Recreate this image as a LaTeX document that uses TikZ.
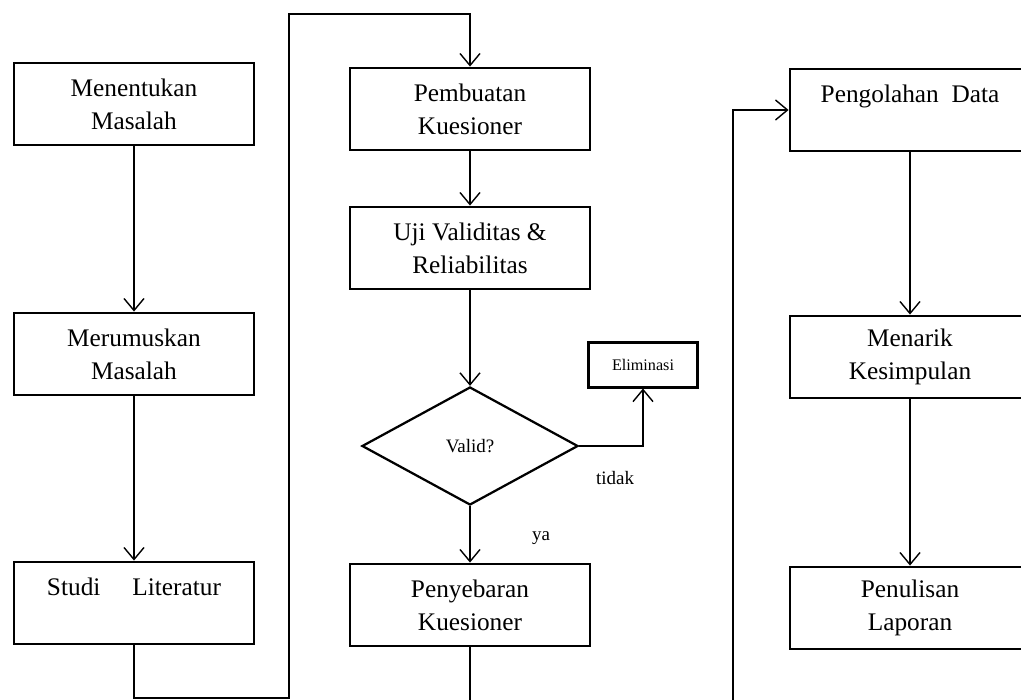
\documentclass[tikz,border=0pt]{standalone}
\usepackage{fontspec}
\setmainfont{Liberation Serif}
\usetikzlibrary{shapes.geometric,arrows.meta}

\begin{document}
\begin{tikzpicture}[x=0.025cm,y=-0.025cm,line width=1pt,>={Straight Barb[length=0.3cm,width=0.5cm]},
    box node/.style={draw,line width=2pt,minimum width=6cm,minimum height=2.05cm,inner sep=0pt,align=center,font=\fontsize{18}{23.5}\selectfont},
    small node/.style={draw,line width=1.6pt,minimum width=2.72cm,minimum height=1.12cm,inner sep=0pt,font=\fontsize{11.5}{14}\selectfont},
    test node/.style={diamond,draw,line width=1.6pt,minimum width=5.4cm,minimum height=2.95cm,inner sep=0pt,font=\fontsize{13.5}{16}\selectfont},
    label node/.style={font=\fontsize{13.5}{16}\selectfont}]
                \clip (0,0) rectangle (1021,699);
                \node[box node] at (134,104) (m1) {Menentukan\\Masalah};
                \node[box node] at (134,354) (m2) {Merumuskan\\Masalah};
                \node[box node] at (134,603) (m3) {Studi\hspace{0.8cm}Literatur\\\mbox{}};
                \node[box node] at (470,109) (p1) {Pembuatan\\Kuesioner};
                \node[box node] at (470,248) (p2) {Uji Validitas \&\\Reliabilitas};
                \node[test node] at (470,446) (v) {Valid?};
                \node[small node] at (643,365) (el) {Eliminasi};
                \node[box node] at (470,605) (p3) {Penyebaran\\Kuesioner};
                \node[box node] at (910,110) (r1) {Pengolahan\ \ Data\\\mbox{}};
                \node[box node] at (910,357) (r2) {Menarik\\Kesimpulan};
                \node[box node] at (910,608) (r3) {Penulisan\\Laporan};
                \node[label node] at (615,478) (tdk) {tidak};
                \node[label node] at (541,538) (ya) {ya};
                \coordinate (k1) at (289,698);
                \coordinate (k2) at (289,14);
                \coordinate (k3) at (733,712);

                \path[->] (m1) edge (m2)
                    (m2) edge (m3)
                    (p1) edge (p2)
                    (p2) edge (v)
                    (v) edge (p3)
                    (r1) edge (r2)
                    (r2) edge (r3);
                \draw[->] (m3) |- (k1) -- (k2) -| (p1);
                \draw[->] (v) -| (el);
                \draw[->] (p3) |- (k3) |- (r1);
            \end{tikzpicture}
\end{document}
